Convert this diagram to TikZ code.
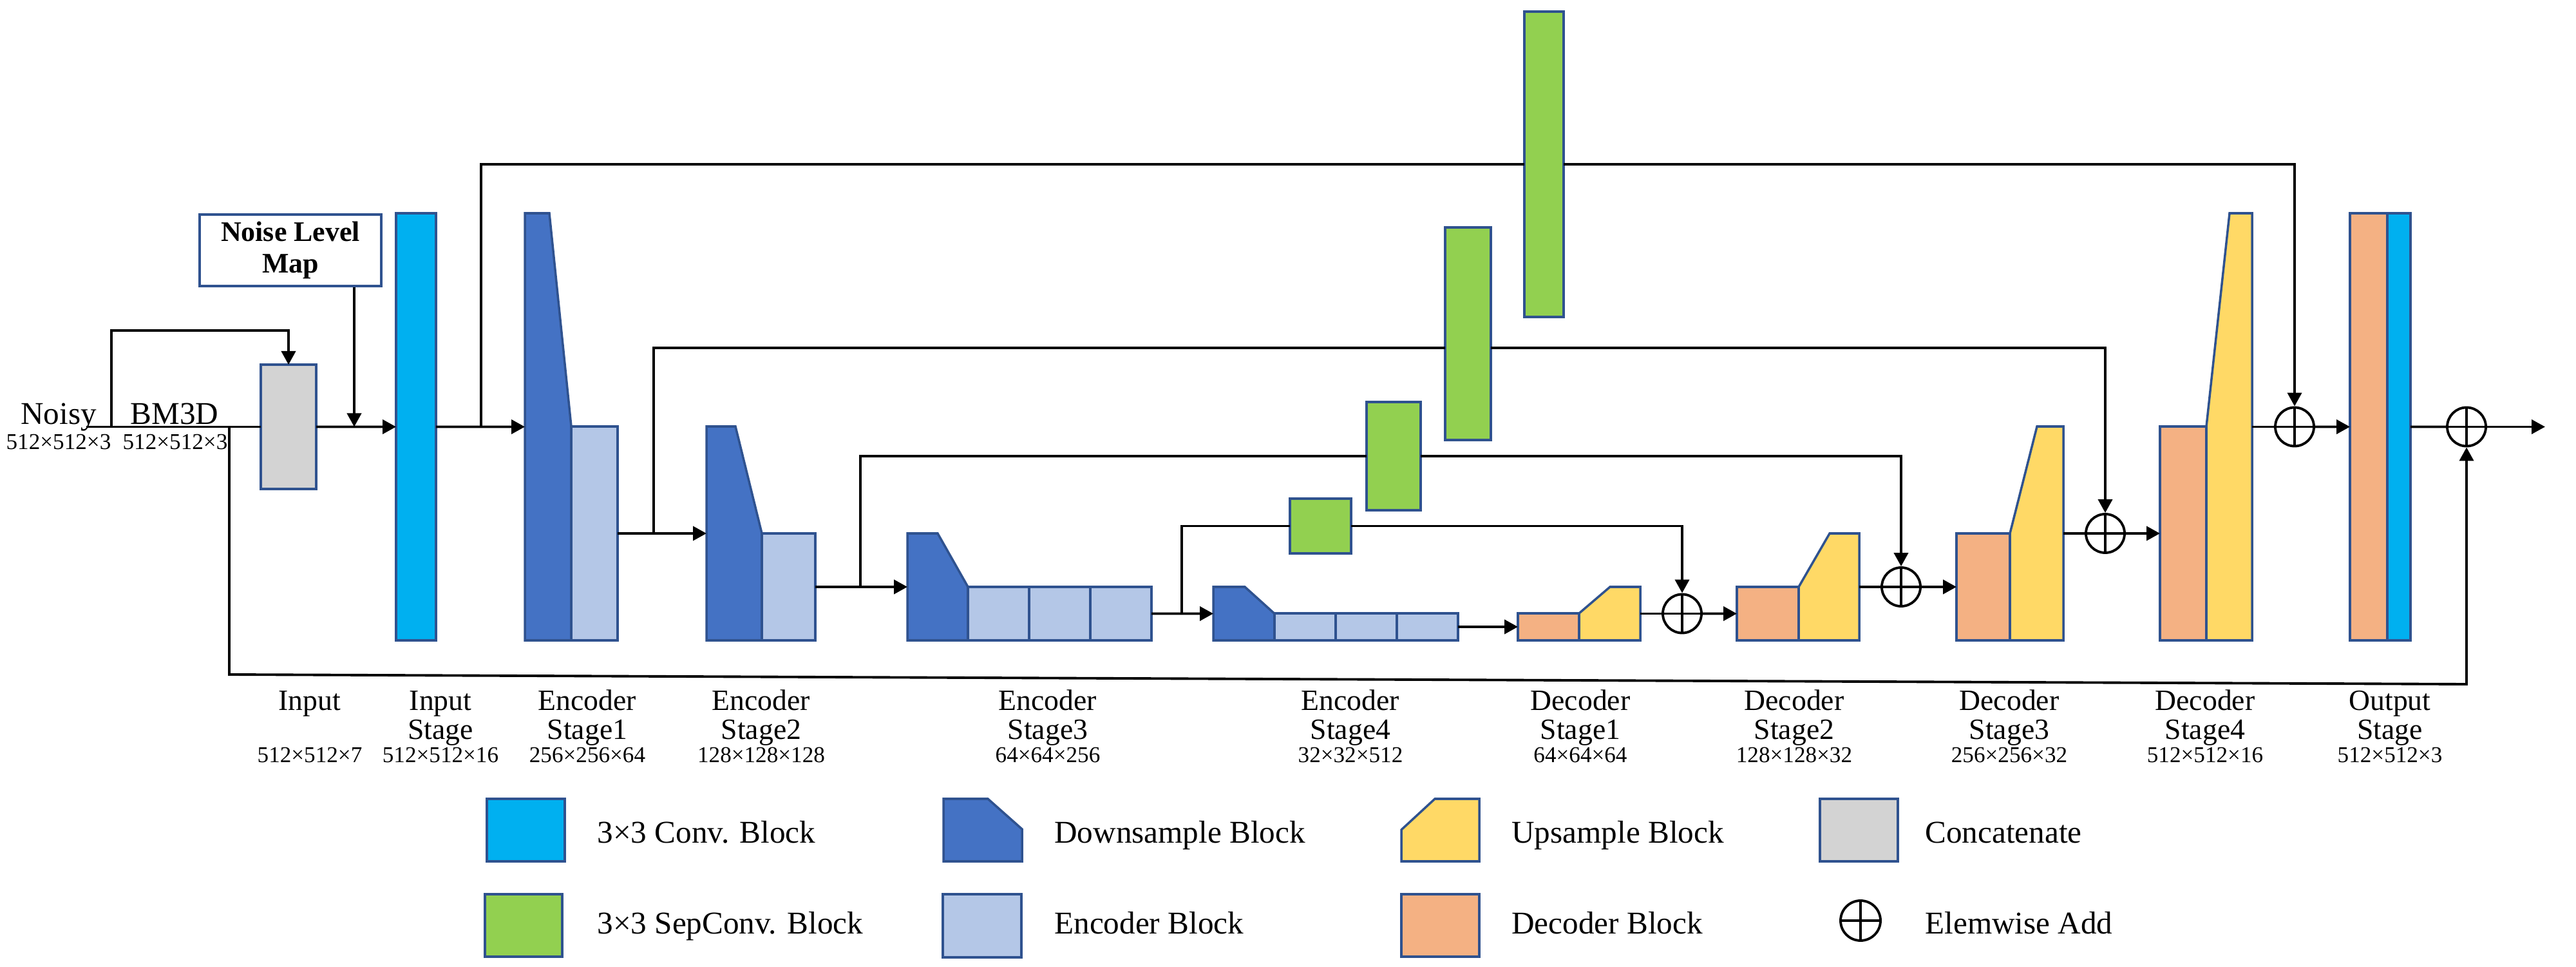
\documentclass[tikz,border=0pt]{standalone}
\usepackage{fontspec}
\setmainfont{Liberation Serif}
\usetikzlibrary{arrows.meta,positioning}

\definecolor{convblue}{HTML}{00B0F0}
\definecolor{downblue}{HTML}{4472C4}
\definecolor{encblue}{HTML}{B4C7E7}
\definecolor{upyellow}{HTML}{FFD966}
\definecolor{decorange}{HTML}{F4B183}
\definecolor{sepgreen}{HTML}{92D050}
\definecolor{catgrey}{HTML}{D3D3D3}
\definecolor{edgeblue}{HTML}{2F528F}

\begin{document}
\begin{tikzpicture}[
    blk/.style={rectangle, draw=edgeblue, line width=1pt, inner sep=0pt, outer sep=0pt, anchor=south west},
    conv/.style={blk, fill=convblue},
    encblk/.style={blk, fill=encblue},
    decblk/.style={blk, fill=decorange},
    sepconv/.style={blk, fill=sepgreen, anchor=center},
    concat/.style={blk, fill=catgrey, anchor=center},
    down/.style={draw=edgeblue, line width=1pt, fill=downblue},
    up/.style={draw=edgeblue, line width=1pt, fill=upyellow},
    addop/.style={circle, draw, line width=1.1pt, minimum size=0.6cm, inner sep=0pt,
        path picture={\draw[line width=1.1pt] (path picture bounding box.north) -- (path picture bounding box.south)
            (path picture bounding box.west) -- (path picture bounding box.east);}},
    line/.style={line width=1.1pt},
    arr/.style={line, -{Triangle[length=2.1mm, width=2.2mm]}},
    lbl/.style={align=center, anchor=base, font=\fontsize{13}{12.8}\selectfont},
    dim/.style={anchor=base, font=\fontsize{10}{11}\selectfont},
    lgd/.style={anchor=base west, font=\fontsize{14}{16}\selectfont}
]
    \useasboundingbox (0,0) rectangle (40,15);

    % Inputs
    \node[anchor=base, font=\fontsize{14}{16}\selectfont] (noisy) at (0.91,8.42) {Noisy};
    \node[dim] (dnoisy) at (0.91,8.02) {512×512×3};
    \node[anchor=base, font=\fontsize{14}{16}\selectfont] (bm3d) at (2.71,8.42) {BM3D};
    \node[dim] (dbm3d) at (2.72,8.02) {512×512×3};
    \node[draw=edgeblue, line width=1pt, minimum width=2.82cm, minimum height=1.11cm, align=center,
        font=\bfseries\fontsize{12.5}{13.7}\selectfont] (nmap) at (4.51,11.115) {Noise Level\\Map};
    \node[concat, minimum width=0.86cm, minimum height=1.93cm] (cat) at (4.48,8.375) {};

    \coordinate (nin) at (1.34,8.375);
    \coordinate (nbr) at (1.73,8.375);
    \coordinate (ntop) at (1.73,9.87);
    \coordinate (bm) at (3.56,8.375);
    \coordinate (nm) at (5.50,8.375);
    \draw[line] (nin) -- (cat.west);
    \draw[arr] (nbr) -- (ntop) -| (cat.north);
    \draw[arr] (nmap.south -| nm) -- (nm);

    % Input stage
    \node[conv, minimum width=0.62cm, minimum height=6.63cm] (instg) at (6.15,5.06) {};
    \draw[arr] (cat.east) -- (instg.west);

    % Encoder stage 1
    \draw[down] (8.15,5.06) -- (8.15,11.69) -- (8.53,11.69) -- (8.87,8.38) -- (8.87,5.06) -- cycle;
    \coordinate (e1in) at (8.15,8.375);
    \node[encblk, minimum width=0.72cm, minimum height=3.32cm] (e1b) at (8.87,5.06) {};

    % Encoder stage 2
    \draw[down] (10.97,5.06) -- (10.97,8.38) -- (11.42,8.38) -- (11.83,6.72) -- (11.83,5.06) -- cycle;
    \coordinate (e2in) at (10.97,6.72);
    \node[encblk, minimum width=0.83cm, minimum height=1.66cm] (e2b) at (11.83,5.06) {};

    % Encoder stage 3
    \draw[down] (14.09,5.06) -- (14.09,6.72) -- (14.56,6.72) -- (15.03,5.89) -- (15.03,5.06) -- cycle;
    \coordinate (e3in) at (14.09,5.89);
    \node[encblk, minimum width=0.95cm, minimum height=0.83cm] (e3a) at (15.03,5.06) {};
    \node[encblk, minimum width=0.95cm, minimum height=0.83cm] (e3b) at (15.98,5.06) {};
    \node[encblk, minimum width=0.95cm, minimum height=0.83cm] (e3c) at (16.93,5.06) {};

    % Encoder stage 4
    \draw[down] (18.84,5.06) -- (18.84,5.89) -- (19.33,5.89) -- (19.79,5.475) -- (19.79,5.06) -- cycle;
    \coordinate (e4in) at (18.84,5.475);
    \node[encblk, minimum width=0.95cm, minimum height=0.42cm] (e4a) at (19.79,5.06) {};
    \node[encblk, minimum width=0.95cm, minimum height=0.42cm] (e4b) at (20.74,5.06) {};
    \node[encblk, minimum width=0.95cm, minimum height=0.42cm] (e4c) at (21.69,5.06) {};

    % Decoder stage 1
    \node[decblk, minimum width=0.95cm, minimum height=0.42cm] (d1o) at (23.57,5.06) {};
    \draw[up] (24.52,5.06) -- (24.52,5.48) -- (25.00,5.89) -- (25.47,5.89) -- (25.47,5.06) -- cycle;
    \coordinate (d1out) at (25.47,5.475);
    \node[addop] (add1) at (26.12,5.475) {};

    % Decoder stage 2
    \node[decblk, minimum width=0.96cm, minimum height=0.83cm] (d2o) at (26.97,5.06) {};
    \draw[up] (27.93,5.06) -- (27.93,5.89) -- (28.41,6.72) -- (28.87,6.72) -- (28.87,5.06) -- cycle;
    \coordinate (d2out) at (28.87,5.89);
    \node[addop] (add2) at (29.52,5.89) {};

    % Decoder stage 3
    \node[decblk, minimum width=0.83cm, minimum height=1.66cm] (d3o) at (30.38,5.06) {};
    \draw[up] (31.21,5.06) -- (31.21,6.72) -- (31.63,8.38) -- (32.04,8.38) -- (32.04,5.06) -- cycle;
    \coordinate (d3out) at (32.04,6.72);
    \node[addop] (add3) at (32.69,6.72) {};

    % Decoder stage 4
    \node[decblk, minimum width=0.72cm, minimum height=3.32cm] (d4o) at (33.54,5.06) {};
    \draw[up] (34.26,5.06) -- (34.26,8.38) -- (34.62,11.69) -- (34.97,11.69) -- (34.97,5.06) -- cycle;
    \coordinate (d4out) at (34.97,8.375);
    \node[addop] (add4) at (35.63,8.375) {};

    % Output stage
    \node[decblk, minimum width=0.58cm, minimum height=6.63cm] (outo) at (36.49,5.06) {};
    \node[conv, minimum width=0.36cm, minimum height=6.63cm] (outc) at (37.07,5.06) {};
    \node[addop] (add5) at (38.30,8.375) {};
    \coordinate (outp) at (39.52,8.375);

    % Separable conv blocks on the skips
    \node[sepconv, minimum width=0.95cm, minimum height=0.85cm] (g1) at (20.505,6.835) {};
    \node[sepconv, minimum width=0.84cm, minimum height=1.68cm] (g2) at (21.64,7.92) {};
    \node[sepconv, minimum width=0.71cm, minimum height=3.30cm] (g3) at (22.795,9.82) {};
    \node[sepconv, minimum width=0.61cm, minimum height=4.74cm] (g4) at (23.975,12.45) {};

    % Main path
    \coordinate (br0) at (7.47,8.375);
    \coordinate (br1) at (10.15,6.72);
    \coordinate (br2) at (13.36,5.89);
    \coordinate (br3) at (18.35,5.475);
    \draw[arr] (instg.east) -- (e1in);
    \draw[arr] (e1b.east) -- (e2in);
    \draw[arr] (e2b.east) -- (e3in);
    \draw[arr] (e3c.east) -- (e4in);
    \draw[arr] (e4c.east) -- (d1o.west);
    \draw[line] (d1out) -- (add1.west);
    \draw[arr] (add1.east) -- (d2o.west);
    \draw[line] (d2out) -- (add2.west);
    \draw[arr] (add2.east) -- (d3o.west);
    \draw[line] (d3out) -- (add3.west);
    \draw[arr] (add3.east) -- (d4o.west);
    \draw[line] (d4out) -- (add4.west);
    \draw[arr] (add4.east) -- (outo.west);
    \draw[line] (outc.east) -- (add5.west);
    \draw[arr] (add5.east) -- (outp);

    % Skip connections
    \draw[line] (br0) |- (g4.west);
    \draw[arr] (g4.east) -| (add4.north);
    \draw[line] (br1) |- ([yshift=-2.2mm]g3.west);
    \draw[arr] ([yshift=-2.2mm]g3.east) -| (add3.north);
    \draw[line] (br2) |- (g2.west);
    \draw[arr] (g2.east) -| (add2.north);
    \draw[line] (br3) |- (g1.west);
    \draw[arr] (g1.east) -| (add1.north);

    % Global residual from BM3D
    \coordinate (lowL) at (3.56,4.53);
    \coordinate (lowR) at (38.30,4.38);
    \draw[arr] (bm) -- (lowL) -- (lowR) -- (add5.south);

    % Stage labels
    \node[lbl] (lin) at (4.81,3.98) {Input};
    \node[lbl] (linstg) at (6.84,3.53) {Input\\Stage};
    \node[lbl] (le1) at (9.12,3.53) {Encoder\\Stage1};
    \node[lbl] (le2) at (11.82,3.53) {Encoder\\Stage2};
    \node[lbl] (le3) at (16.27,3.53) {Encoder\\Stage3};
    \node[lbl] (le4) at (20.97,3.53) {Encoder\\Stage4};
    \node[lbl] (ld1) at (24.54,3.53) {Decoder\\Stage1};
    \node[lbl] (ld2) at (27.86,3.53) {Decoder\\Stage2};
    \node[lbl] (ld3) at (31.20,3.53) {Decoder\\Stage3};
    \node[lbl] (ld4) at (34.24,3.53) {Decoder\\Stage4};
    \node[lbl] (lout) at (37.11,3.53) {Output\\Stage};

    \node[dim] (din) at (4.81,3.17) {512×512×7};
    \node[dim] (dinstg) at (6.84,3.17) {512×512×16};
    \node[dim] (de1) at (9.12,3.17) {256×256×64};
    \node[dim] (de2) at (11.82,3.17) {128×128×128};
    \node[dim] (de3) at (16.27,3.17) {64×64×256};
    \node[dim] (de4) at (20.97,3.17) {32×32×512};
    \node[dim] (dd1) at (24.54,3.17) {64×64×64};
    \node[dim] (dd2) at (27.86,3.17) {128×128×32};
    \node[dim] (dd3) at (31.20,3.17) {256×256×32};
    \node[dim] (dd4) at (34.24,3.17) {512×512×16};
    \node[dim] (dout) at (37.11,3.17) {512×512×3};

    % Legend
    \node[conv, minimum width=1.21cm, minimum height=0.97cm] (kconv) at (7.56,1.63) {};
    \node[lgd] (tconv) at (9.15,1.92) {3×3 Conv. Block};
    \node[blk, fill=sepgreen, minimum width=1.20cm, minimum height=0.97cm] (ksep) at (7.53,0.15) {};
    \node[lgd] (tsep) at (9.15,0.51) {3×3 SepConv. Block};
    \draw[down] (14.65,1.63) -- (14.65,2.60) -- (15.34,2.60) -- (15.87,2.13) -- (15.87,1.63) -- cycle;
    \node[lgd] (tdown) at (16.25,1.92) {Downsample Block};
    \node[encblk, minimum width=1.22cm, minimum height=0.98cm] (kenc) at (14.64,0.14) {};
    \node[lgd] (tenc) at (16.25,0.51) {Encoder Block};
    \draw[up] (21.76,1.63) -- (21.76,2.12) -- (22.28,2.60) -- (22.97,2.60) -- (22.97,1.63) -- cycle;
    \node[lgd] (tup) at (23.35,1.92) {Upsample Block};
    \node[decblk, minimum width=1.21cm, minimum height=0.97cm] (kdec) at (21.76,0.15) {};
    \node[lgd] (tdec) at (23.35,0.51) {Decoder Block};
    \node[blk, fill=catgrey, minimum width=1.21cm, minimum height=0.97cm] (kcat) at (28.26,1.63) {};
    \node[lgd] (tcat) at (29.77,1.92) {Concatenate};
    \node[addop, minimum size=0.62cm] (kadd) at (28.89,0.71) {};
    \node[lgd] (tadd) at (29.77,0.51) {Elemwise Add};
\end{tikzpicture}
\end{document}
